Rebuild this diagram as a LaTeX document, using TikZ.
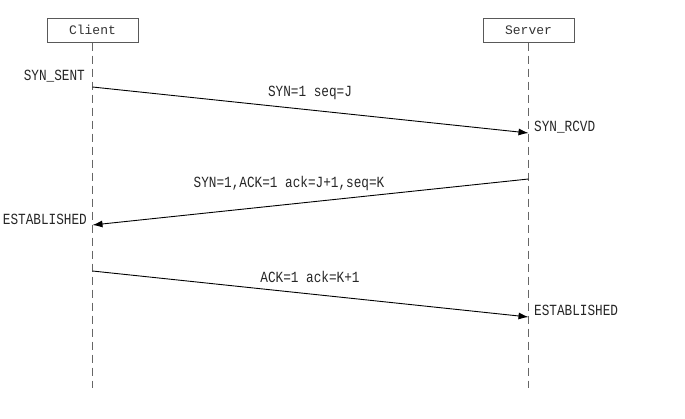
\documentclass[tikz,border=0pt]{standalone}
\usepackage{fontspec}
\usetikzlibrary{arrows.meta}
\newfontfamily\boxfont{Liberation Mono}
\newfontfamily\lblfont[FakeStretch=0.82]{Liberation Mono}
\begin{document}
\begin{tikzpicture}[x=1pt,y=-1pt,
  actor/.style={draw=black!65, line width=1pt, minimum width=91pt, minimum height=24pt, inner sep=0pt, font=\boxfont\fontsize{13}{13}\selectfont, text=black!80},
  lifeline/.style={draw=black!60, line width=1.2pt, dash pattern=on 8pt off 5pt},
  msg/.style={draw=black, line width=0.9pt, -{Latex[length=10pt,width=7pt]}},
  lbl/.style={font=\lblfont\fontsize{15.5}{15.5}\selectfont, text=black!85, inner sep=0pt}]
\useasboundingbox (0,0) rectangle (685,418);
\node[actor] (client) at (92.5,30) {Client};
\node[actor] (server) at (528.5,30) {Server};
\coordinate (cend) at (92.5,388);
\coordinate (send) at (528.5,388);
\draw[lifeline] (client.south) -- (cend);
\draw[lifeline] (server.south) -- (send);
\coordinate (c1) at (92.5,87);
\coordinate (s1) at (528.5,133);
\coordinate (s2) at (528.5,179);
\coordinate (c2) at (92.5,225);
\coordinate (c3) at (92.5,271);
\coordinate (s3) at (528.5,317);
\draw[msg] (c1) -- (s1);
\draw[msg] (s2) -- (c2);
\draw[msg] (c3) -- (s3);
\node[lbl] (m1) at (310,93) {SYN=1 seq=J};
\node[lbl] (m2) at (289,183) {SYN=1,ACK=1 ack=J+1,seq=K};
\node[lbl] (m3) at (310,277) {ACK=1 ack=K+1};
\node[lbl, anchor=east] (st1) at (85,76) {SYN\_SENT};
\node[lbl, anchor=west] (st2) at (534,127) {SYN\_RCVD};
\node[lbl, anchor=east] (st3) at (87,219) {ESTABLISHED};
\node[lbl, anchor=west] (st4) at (534,310) {ESTABLISHED};
\end{tikzpicture}
\end{document}
